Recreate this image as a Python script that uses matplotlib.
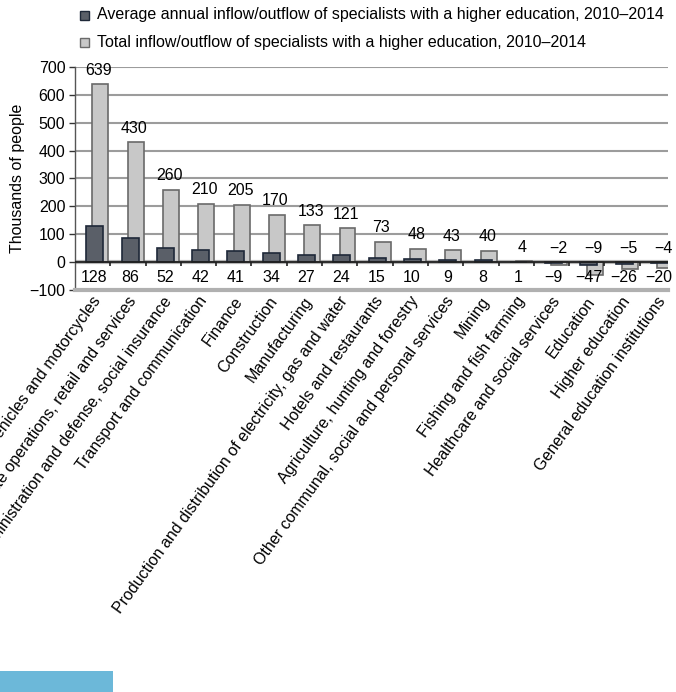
import numpy as np
import matplotlib
matplotlib.use("Agg")
import matplotlib.pyplot as plt
from matplotlib.patches import Rectangle
from matplotlib.transforms import offset_copy

plt.rcParams['font.family'] = ['Liberation Sans', 'DejaVu Sans']

categories = [
    "Wholesale and retail trade, repair of motor vehicles and motorcycles",
    "Real estate operations, retail and services",
    "Public administration and defense, social insurance",
    "Transport and communication",
    "Finance",
    "Construction",
    "Manufacturing",
    "Production and distribution of electricity, gas and water",
    "Hotels and restaurants",
    "Agriculture, hunting and forestry",
    "Other communal, social and personal services",
    "Mining",
    "Fishing and fish farming",
    "Healthcare and social services",
    "Education",
    "Higher education",
    "General education institutions",
]
avg_annual = [128, 86, 52, 42, 41, 34, 27, 24, 15, 10, 9, 8, 1, -2, -9, -5, -4]
total = [639, 430, 260, 210, 205, 170, 133, 121, 73, 48, 43, 40, 4, -9, -47, -26, -20]
series_names = [
    "Average annual inflow/outflow of specialists with a higher education, 2010\u20132014",
    "Total inflow/outflow of specialists with a higher education, 2010\u20132014",
]
yticks = [-100, 0, 100, 200, 300, 400, 500, 600, 700]
ylabel = "Thousands of people"

W, H = 676, 692
fig = plt.figure(figsize=(W / 100, H / 100), dpi=100)
ax_l, ax_r, ax_t, ax_b = 75, 668, 67, 290
ax = fig.add_axes([ax_l / W, 1 - ax_b / H, (ax_r - ax_l) / W, (ax_b - ax_t) / H])

n = len(categories)
x = np.arange(n)
ax.set_xlim(-0.5, n - 0.5 - (n * 35.3 - (ax_r - ax_l)) / 35.3)
ax.set_ylim(-100, 700)

dark_fill = "#5a5f68"
dark_edge = "#1e2838"
light_fill = "#c8c8c8"
light_edge = "#6a6a6a"
fs = 11.5

# gridlines
for v in yticks[2:]:
    ax.axhline(v, color="#9c9c9c", lw=1.5, zorder=0)

# bars
ax.bar(x + 0.22, total, width=0.45, color=light_fill, edgecolor=light_edge, lw=1.2, zorder=2)
ax.bar(x + 0.06, avg_annual, width=0.48, color=dark_fill, edgecolor=dark_edge, lw=1.2, zorder=3)

# zero line / floor
ax.axhline(0, color="#b5b5b5", lw=3.0, zorder=1)
ax.axhline(0, color="#202020", lw=1.3, zorder=4)
ax.vlines(x[1:] - 0.5, -14, 0, color="#202020", lw=1.2, zorder=4)

# value labels
top_tr = offset_copy(ax.transData, fig=fig, x=0, y=14, units='dots')
for i in range(n):
    hi = max(avg_annual[i], total[i])
    lo = min(avg_annual[i], total[i])
    ax.text(x[i] + 0.18, max(hi, 0), f"{hi}".replace("-", "\u2212"), transform=top_tr,
            ha="center", va="center", fontsize=fs, zorder=5)
    ax.text(x[i] + 0.05, -54, f"{lo}".replace("-", "\u2212"),
            ha="center", va="center", fontsize=fs, zorder=5)

# axes styling
for s in ["top", "right"]:
    ax.spines[s].set_visible(False)
ax.spines["left"].set_color("#555555")
ax.spines["left"].set_linewidth(1.0)
ax.spines["bottom"].set_color("#b0b0b0")
ax.spines["bottom"].set_linewidth(3.0)
ax.set_yticks(yticks)
ax.set_yticklabels([f"{v}".replace("-", "\u2212") for v in yticks], fontsize=fs)
ax.tick_params(axis="y", length=4, width=1, color="#333333", pad=3)
ax.set_xticks(x + 0.15)
ax.set_xticklabels(categories, rotation=54, ha="right", va="center",
                   rotation_mode="anchor", fontsize=fs)
ax.tick_params(axis="x", length=0, pad=6)
fig.text(18 / W, 1 - ((ax_t + ax_b) / 2) / H, ylabel, rotation=90,
         ha="center", va="center", fontsize=fs)
ax.set_facecolor("white")

# legend (manual)
for k, (name, fc, ec) in enumerate(zip(series_names, [dark_fill, light_fill], [dark_edge, light_edge])):
    yc = 15 + 27 * k
    fig.patches.append(Rectangle((80 / W, 1 - (yc + 4.5) / H), 9 / W, 9 / H,
                                 transform=fig.transFigure, facecolor=fc, edgecolor=ec, lw=1.0))
    fig.text(97 / W, 1 - yc / H, name, ha="left", va="center", fontsize=fs)

# blue footer block
fig.patches.append(Rectangle((0, 0), 113 / W, 21 / H, transform=fig.transFigure,
                             facecolor="#6cb8d9", edgecolor="none"))

fig.savefig("out.png", dpi=100)
